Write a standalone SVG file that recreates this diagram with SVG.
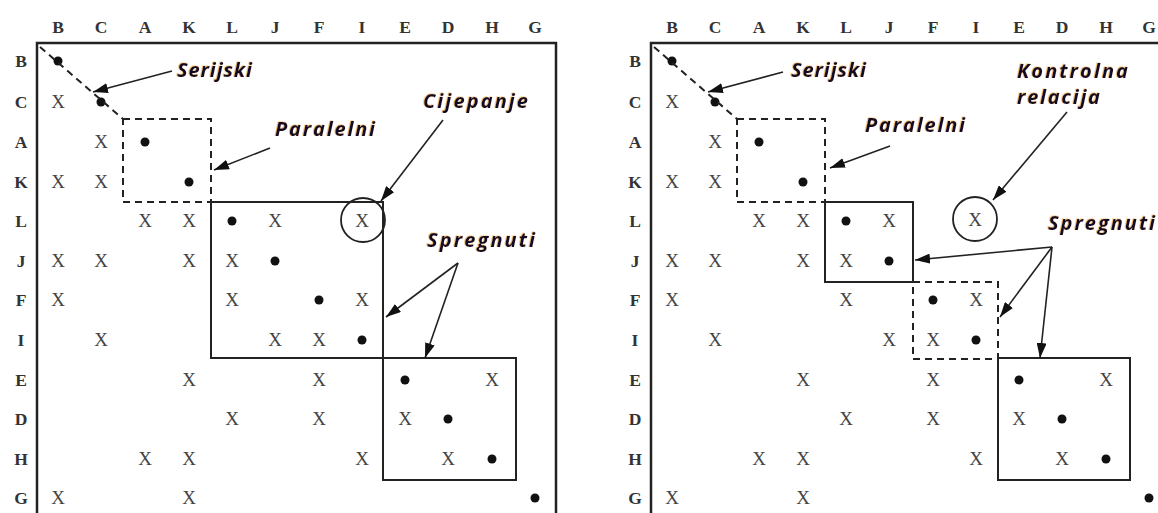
<svg xmlns="http://www.w3.org/2000/svg" width="1158" height="513" viewBox="0 0 1158 513">
<style>
.hdr{font-family:"Liberation Serif",serif;font-size:17.5px;font-weight:bold;fill:#333;text-anchor:middle}
.x{font-family:"Liberation Serif",serif;font-size:19px;fill:#444;text-anchor:middle}
.dot{fill:#111}
.frame{fill:none;stroke:#222;stroke-width:2.5}
.box{fill:none;stroke:#222;stroke-width:2}
.dash{fill:none;stroke:#222;stroke-width:2;stroke-dasharray:7 5}
.ring{fill:none;stroke:#222;stroke-width:1.8}
.arrow{fill:none;stroke:#222;stroke-width:1.6;marker-end:url(#ah)}
.lbl{font-family:"Open Sans","Liberation Sans",sans-serif;font-size:20px;font-weight:bold;font-style:italic;fill:#0d0d2b;filter:url(#glow)}
</style>
<defs>
<marker id="ah" markerUnits="userSpaceOnUse" markerWidth="15" markerHeight="10" refX="15" refY="5" orient="auto"><path d="M0,0 L15,5 L0,10 z" fill="#111"/></marker>
<filter id="glow" x="-10%" y="-30%" width="120%" height="160%"><feDropShadow dx="-0.7" dy="-0.4" stdDeviation="0.25" flood-color="#e38b00" flood-opacity="0.75"/></filter>
</defs>
<rect width="1158" height="513" fill="#fff"/>

<g id="matrix-left">
<g id="left-headers">
<text class="hdr" x="58" y="33">B</text><text class="hdr" x="101" y="33">C</text><text class="hdr" x="145" y="33">A</text><text class="hdr" x="189" y="33">K</text><text class="hdr" x="232" y="33">L</text><text class="hdr" x="275" y="33">J</text><text class="hdr" x="319" y="33">F</text><text class="hdr" x="362" y="33">I</text><text class="hdr" x="405" y="33">E</text><text class="hdr" x="448" y="33">D</text><text class="hdr" x="492" y="33">H</text><text class="hdr" x="535" y="33">G</text>
<text class="hdr" x="21" y="67">B</text><text class="hdr" x="21" y="108">C</text><text class="hdr" x="21" y="148">A</text><text class="hdr" x="21" y="188">K</text><text class="hdr" x="21" y="227">L</text><text class="hdr" x="21" y="267">J</text><text class="hdr" x="21" y="306">F</text><text class="hdr" x="21" y="346">I</text><text class="hdr" x="21" y="386">E</text><text class="hdr" x="21" y="425">D</text><text class="hdr" x="21" y="465">H</text><text class="hdr" x="21" y="504">G</text>
</g>
<path class="frame" d="M37,513 V43 H556 V513"/>
<g id="left-cells">
<text class="x" x="58" y="108">X</text>
<text class="x" x="101" y="148">X</text>
<text class="x" x="58" y="188">X</text><text class="x" x="101" y="188">X</text>
<text class="x" x="145" y="227">X</text><text class="x" x="189" y="227">X</text><text class="x" x="275" y="227">X</text><text class="x" x="362" y="227">X</text>
<text class="x" x="58" y="267">X</text><text class="x" x="101" y="267">X</text><text class="x" x="189" y="267">X</text><text class="x" x="232" y="267">X</text>
<text class="x" x="58" y="306">X</text><text class="x" x="232" y="306">X</text><text class="x" x="362" y="306">X</text>
<text class="x" x="101" y="346">X</text><text class="x" x="275" y="346">X</text><text class="x" x="319" y="346">X</text>
<text class="x" x="189" y="386">X</text><text class="x" x="319" y="386">X</text><text class="x" x="492" y="386">X</text>
<text class="x" x="232" y="425">X</text><text class="x" x="319" y="425">X</text><text class="x" x="405" y="425">X</text>
<text class="x" x="145" y="465">X</text><text class="x" x="189" y="465">X</text><text class="x" x="362" y="465">X</text><text class="x" x="448" y="465">X</text>
<text class="x" x="58" y="504">X</text><text class="x" x="189" y="504">X</text>
<circle class="dot" cx="58" cy="61" r="4.5"/><circle class="dot" cx="101" cy="102" r="4.5"/><circle class="dot" cx="145" cy="142" r="4.5"/><circle class="dot" cx="189" cy="182" r="4.5"/><circle class="dot" cx="232" cy="221" r="4.5"/><circle class="dot" cx="275" cy="261" r="4.5"/><circle class="dot" cx="319" cy="300" r="4.5"/><circle class="dot" cx="362" cy="340" r="4.5"/><circle class="dot" cx="405" cy="380" r="4.5"/><circle class="dot" cx="448" cy="419" r="4.5"/><circle class="dot" cx="492" cy="459" r="4.5"/><circle class="dot" cx="535" cy="498" r="4.5"/>
</g>
<g id="left-serial"><path class="dash" d="M40,47 L123,119"/></g>
<g id="left-parallel"><rect class="dash" x="123" y="119" width="88" height="83"/></g>
<g id="left-coupled-1"><rect class="box" x="211" y="202" width="172" height="156"/></g>
<g id="left-coupled-2"><rect class="box" x="383" y="358" width="133" height="122"/></g>
<g id="left-split"><circle class="ring" cx="363" cy="220" r="22"/></g>
</g>

<g id="matrix-right" transform="translate(614,0)">
<g id="right-headers">
<text class="hdr" x="58" y="33">B</text><text class="hdr" x="101" y="33">C</text><text class="hdr" x="145" y="33">A</text><text class="hdr" x="189" y="33">K</text><text class="hdr" x="232" y="33">L</text><text class="hdr" x="275" y="33">J</text><text class="hdr" x="319" y="33">F</text><text class="hdr" x="362" y="33">I</text><text class="hdr" x="405" y="33">E</text><text class="hdr" x="448" y="33">D</text><text class="hdr" x="492" y="33">H</text><text class="hdr" x="535" y="33">G</text>
<text class="hdr" x="21" y="67">B</text><text class="hdr" x="21" y="108">C</text><text class="hdr" x="21" y="148">A</text><text class="hdr" x="21" y="188">K</text><text class="hdr" x="21" y="227">L</text><text class="hdr" x="21" y="267">J</text><text class="hdr" x="21" y="306">F</text><text class="hdr" x="21" y="346">I</text><text class="hdr" x="21" y="386">E</text><text class="hdr" x="21" y="425">D</text><text class="hdr" x="21" y="465">H</text><text class="hdr" x="21" y="504">G</text>
</g>
<path class="frame" d="M37,513 V43 H560"/>
<g id="right-cells">
<text class="x" x="58" y="108">X</text>
<text class="x" x="101" y="148">X</text>
<text class="x" x="58" y="188">X</text><text class="x" x="101" y="188">X</text>
<text class="x" x="145" y="227">X</text><text class="x" x="189" y="227">X</text><text class="x" x="275" y="227">X</text><text class="x" x="361" y="226">X</text>
<text class="x" x="58" y="267">X</text><text class="x" x="101" y="267">X</text><text class="x" x="189" y="267">X</text><text class="x" x="232" y="267">X</text>
<text class="x" x="58" y="306">X</text><text class="x" x="232" y="306">X</text><text class="x" x="362" y="306">X</text>
<text class="x" x="101" y="346">X</text><text class="x" x="275" y="346">X</text><text class="x" x="319" y="346">X</text>
<text class="x" x="189" y="386">X</text><text class="x" x="319" y="386">X</text><text class="x" x="492" y="386">X</text>
<text class="x" x="232" y="425">X</text><text class="x" x="319" y="425">X</text><text class="x" x="405" y="425">X</text>
<text class="x" x="145" y="465">X</text><text class="x" x="189" y="465">X</text><text class="x" x="362" y="465">X</text><text class="x" x="448" y="465">X</text>
<text class="x" x="58" y="504">X</text><text class="x" x="189" y="504">X</text>
<circle class="dot" cx="58" cy="61" r="4.5"/><circle class="dot" cx="101" cy="102" r="4.5"/><circle class="dot" cx="145" cy="142" r="4.5"/><circle class="dot" cx="189" cy="182" r="4.5"/><circle class="dot" cx="232" cy="221" r="4.5"/><circle class="dot" cx="275" cy="261" r="4.5"/><circle class="dot" cx="319" cy="300" r="4.5"/><circle class="dot" cx="362" cy="340" r="4.5"/><circle class="dot" cx="405" cy="380" r="4.5"/><circle class="dot" cx="448" cy="419" r="4.5"/><circle class="dot" cx="492" cy="459" r="4.5"/><circle class="dot" cx="535" cy="498" r="4.5"/>
</g>
<g id="right-serial"><path class="dash" d="M40,47 L123,119"/></g>
<g id="right-parallel-1"><rect class="dash" x="123" y="119" width="88" height="83"/></g>
<g id="right-coupled-1"><rect class="box" x="211" y="202" width="88" height="80"/></g>
<g id="right-parallel-2"><rect class="dash" x="299" y="282" width="85" height="77"/></g>
<g id="right-coupled-2"><rect class="box" x="384" y="358" width="132" height="122"/></g>
<g id="right-control"><circle class="ring" cx="361" cy="219" r="22"/></g>
</g>

<g id="labels">
<g id="lbl-serijski-l"><text class="lbl" x="177" y="77" textLength="75" lengthAdjust="spacing">Serijski</text></g>
<g id="lbl-paralelni-l"><text class="lbl" x="275" y="136" textLength="100" lengthAdjust="spacing">Paralelni</text></g>
<g id="lbl-cijepanje"><text class="lbl" x="423" y="108" textLength="105" lengthAdjust="spacing">Cijepanje</text></g>
<g id="lbl-spregnuti-l"><text class="lbl" x="427" y="247" textLength="108" lengthAdjust="spacing">Spregnuti</text></g>
<g id="lbl-serijski-r"><text class="lbl" x="791" y="77" textLength="75" lengthAdjust="spacing">Serijski</text></g>
<g id="lbl-paralelni-r"><text class="lbl" x="865" y="132" textLength="100" lengthAdjust="spacing">Paralelni</text></g>
<g id="lbl-kontrolna"><text class="lbl" x="1017" y="78" textLength="111" lengthAdjust="spacing">Kontrolna</text><text class="lbl" x="1017" y="104" textLength="83" lengthAdjust="spacing">relacija</text></g>
<g id="lbl-spregnuti-r"><text class="lbl" x="1048" y="230" textLength="107" lengthAdjust="spacing">Spregnuti</text></g>
</g>

<g id="connectors">
<line class="arrow" x1="172" y1="71" x2="93" y2="92"/>
<line class="arrow" x1="270" y1="148" x2="214" y2="170"/>
<line class="arrow" x1="443" y1="120" x2="381" y2="201"/>
<line class="arrow" x1="458" y1="263" x2="386" y2="317"/>
<line class="arrow" x1="458" y1="263" x2="425" y2="358"/>
<line class="arrow" x1="783" y1="72" x2="708" y2="92"/>
<line class="arrow" x1="890" y1="146" x2="830" y2="168"/>
<line class="arrow" x1="1067" y1="112" x2="993" y2="200"/>
<line class="arrow" x1="1052" y1="247" x2="915" y2="260"/>
<line class="arrow" x1="1052" y1="247" x2="1000" y2="317"/>
<line class="arrow" x1="1052" y1="247" x2="1040" y2="358"/>
</g>
</svg>
